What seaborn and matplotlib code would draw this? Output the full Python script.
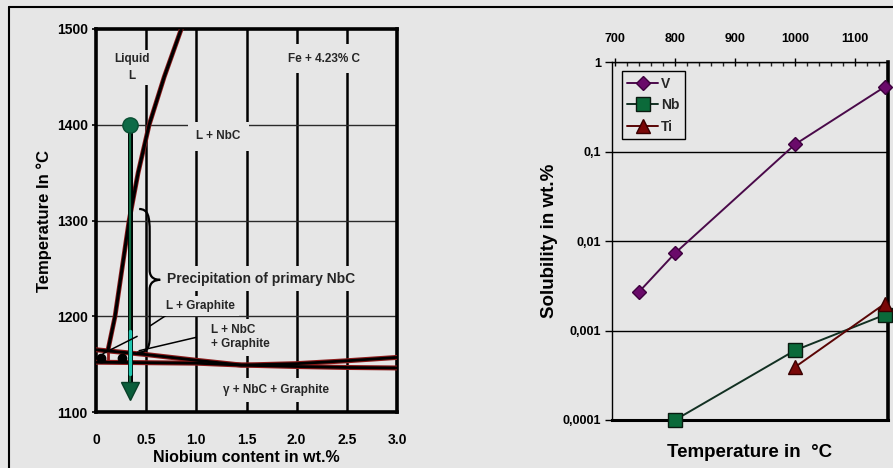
import numpy as np
import pandas as pd
import matplotlib
matplotlib.use("Agg")
import matplotlib.pyplot as plt
import seaborn as sns
from matplotlib.path import Path
from matplotlib.patches import PathPatch
from matplotlib.lines import Line2D
from matplotlib.ticker import FixedLocator, FixedFormatter, MultipleLocator, NullLocator

# ---------------- data: left panel (Fe + 4.23% C with Nb) ----------------
nb_ticks = [0, 0.5, 1.0, 1.5, 2.0, 2.5, 3.0]
nb_tick_labels = ["0", "0.5", "1.0", "1.5", "2.0", "2.5", "3.0"]
temp_ticks = [1100, 1200, 1300, 1400, 1500]
temp_tick_labels = ["1100", "1200", "1300", "1400", "1500"]

liquidus_nb = [0.12, 0.19, 0.26, 0.33, 0.42, 0.53, 0.68, 0.85]
liquidus_T = [1165, 1200, 1250, 1300, 1350, 1400, 1450, 1500]

eut_upper_nb = [0.0, 0.5, 1.0, 1.45, 2.0, 2.5, 3.0]
eut_upper_T = [1165, 1160, 1154, 1149, 1147.5, 1146.5, 1146]
eut_lower_nb = [0.0, 0.5, 1.0, 1.45, 2.0, 2.5, 3.0]
eut_lower_T = [1152, 1151.5, 1151, 1149, 1150.5, 1153.5, 1157]

alloy_nb = [0.34, 0.34]
alloy_T = [1400, 1122]

dots_nb = [0.05, 0.26]
dots_T = [1156, 1156]

# ---------------- data: right panel (solubility) ----------------
temp_top_ticks = [700, 800, 900, 1000, 1100]
sol_ticks = [0.0001, 0.001, 0.01, 0.1, 1]
sol_tick_labels = ["0,0001", "0,001", "0,01", "0,1", "1"]

v_temp = [740, 800, 1000, 1150]
v_sol = [0.0027, 0.0073, 0.12, 0.53]
nb_temp = [800, 1000, 1150]
nb_sol = [0.0001, 0.0006, 0.0015]
ti_temp = [1000, 1150]
ti_sol = [0.00039, 0.0020]

sol_df = pd.DataFrame({
    "element": ["V"] * len(v_temp) + ["Nb"] * len(nb_temp) + ["Ti"] * len(ti_temp),
    "temp": v_temp + nb_temp + ti_temp,
    "sol": v_sol + nb_sol + ti_sol,
})

# ---------------- style ----------------
BG = "#e6e6e6"
sns.set_theme(style="white")
plt.rcParams["font.family"] = ["Liberation Sans", "DejaVu Sans"]
plt.rcParams["font.weight"] = "bold"
plt.rcParams["axes.labelweight"] = "bold"

fig = plt.figure(figsize=(8.93, 4.68), dpi=100, facecolor=BG)
W, H = 893, 468

def axrect(l, t, r, b):
    return [l / W, 1 - b / H, (r - l) / W, (b - t) / H]

# ================= LEFT PANEL =================
ax = fig.add_axes(axrect(96, 29, 397, 412))
ax.set_facecolor(BG)
ax.set_xlim(0, 3.0)
ax.set_ylim(1100, 1500)

# grid lines
for x in nb_ticks[1:-1]:
    ax.axvline(x, color="black", lw=1.8, zorder=1)
for y in temp_ticks[1:-1]:
    ax.axhline(y, color="#2a2a2a", lw=1.0, zorder=1)

# liquidus
sns.lineplot(x=liquidus_nb, y=liquidus_T, sort=False, estimator=None, ax=ax,
             color="#8b1a1a", lw=3.4, zorder=3)
sns.lineplot(x=liquidus_nb, y=liquidus_T, sort=False, estimator=None, ax=ax,
             color="black", lw=2.2, zorder=4)
# eutectic lines
for xs, ys in [(eut_upper_nb, eut_upper_T), (eut_lower_nb, eut_lower_T)]:
    sns.lineplot(x=xs, y=ys, sort=False, estimator=None, ax=ax,
                 color="#8b1a1a", lw=3.6, zorder=3)
    sns.lineplot(x=xs, y=ys, sort=False, estimator=None, ax=ax,
                 color="black", lw=2.0, zorder=4)
ax.plot([0.12, 0.12], [1152, 1165], color="#8b1a1a", lw=2, zorder=3)

# alloy cooling path (arrow)
sns.lineplot(x=alloy_nb, y=alloy_T, sort=False, estimator=None, ax=ax,
             color="black", lw=3.6, zorder=5)
ax.plot([alloy_nb[0], alloy_nb[0]], [1395, 1130], color="#0d6a40", lw=1.6, zorder=6)
ax.plot([alloy_nb[0], alloy_nb[0]], [1185, 1140], color="#1fc7b0", lw=2.4, zorder=6)
ax.plot([alloy_nb[1]], [alloy_T[1]], marker="v", ms=13, color="#0b5e3b",
        mec="#083f28", zorder=7, clip_on=False)
ax.plot([alloy_nb[0]], [alloy_T[0]], marker="o", ms=11, color="#0e6b47",
        mec="#0a4f33", zorder=7)
# points on eutectic
ax.plot(dots_nb, dots_T, "o", color="black", ms=6, zorder=8)

# brace
bx, btop, bbot, btip, btipT = 0.535, 1310, 1162, 0.64, 1238
verts = [(0.43, btop + 2), (0.52, btop + 2), (bx, btop - 6), (bx, btop - 22),
         (bx, btipT + 10),
         (bx, btipT + 2), (btip - 0.05, btipT), (btip, btipT),
         (btip - 0.05, btipT), (bx, btipT - 2), (bx, btipT - 10),
         (bx, bbot + 16),
         (bx, bbot + 4), (0.50, bbot), (0.41, bbot)]
codes = [Path.MOVETO, Path.CURVE4, Path.CURVE4, Path.CURVE4,
         Path.LINETO,
         Path.CURVE4, Path.CURVE4, Path.CURVE4,
         Path.CURVE4, Path.CURVE4, Path.CURVE4,
         Path.LINETO,
         Path.CURVE4, Path.CURVE4, Path.CURVE4]
ax.add_patch(PathPatch(Path(verts, codes), fill=False, lw=1.6, color="black", zorder=6))

# leader lines
ax.plot([0.07, 0.41], [1161, 1179], color="black", lw=1.1, zorder=6)
ax.plot([0.54, 0.70], [1190, 1201], color="black", lw=1.1, zorder=6)
ax.plot([0.43, 1.00], [1164, 1178], color="black", lw=1.1, zorder=6)

box = dict(facecolor=BG, edgecolor="none", pad=2.5)
ax.text(0.36, 1460, "Liquid\nL", ha="center", va="center", fontsize=8.5,
        linespacing=1.5, bbox=box, zorder=9)
ax.text(2.27, 1469, "Fe + 4.23% C", ha="center", va="center", fontsize=8.5,
        bbox=dict(facecolor=BG, edgecolor="none", pad=6), zorder=9)
ax.text(1.22, 1388, "L + NbC", ha="center", va="center", fontsize=8.5,
        bbox=dict(facecolor=BG, edgecolor="none", pad=6), zorder=9)
ax.text(0.71, 1239, "Precipitation of primary NbC", ha="left", va="center",
        fontsize=10, bbox=dict(facecolor=BG, edgecolor="none", pad=4), zorder=9)
ax.text(0.70, 1211, "L + Graphite", ha="left", va="center", fontsize=8.5,
        bbox=dict(facecolor=BG, edgecolor="none", pad=3), zorder=9)
ax.text(1.15, 1178, "L + NbC\n+ Graphite", ha="left", va="center", fontsize=8.5,
        linespacing=1.2, bbox=dict(facecolor=BG, edgecolor="none", pad=4), zorder=9)
ax.text(1.79, 1123, "\u03b3 + NbC + Graphite", ha="center", va="center", fontsize=8.5,
        bbox=dict(facecolor=BG, edgecolor="none", pad=4), zorder=9)

ax.xaxis.set_major_locator(FixedLocator(nb_ticks))
ax.xaxis.set_major_formatter(FixedFormatter(nb_tick_labels))
ax.yaxis.set_major_locator(FixedLocator(temp_ticks))
ax.yaxis.set_major_formatter(FixedFormatter(temp_tick_labels))
ax.tick_params(axis="x", length=0, pad=15, labelsize=10, colors="black")
ax.tick_params(axis="y", left=True, length=3, width=1.2, pad=3, labelsize=10, colors="black")
for lab in ax.get_xticklabels() + ax.get_yticklabels():
    lab.set_fontweight("bold")
for s in ax.spines.values():
    s.set_color("black")
    s.set_linewidth(2.6)
ax.set_xlabel("Niobium content in wt.%", fontsize=11.5, labelpad=2, color="black")
ax.set_ylabel("Temperature In \u00b0C", fontsize=12, labelpad=3, color="black")

# ================= RIGHT PANEL =================
ax2 = fig.add_axes(axrect(612, 62, 888, 420))
ax2.set_facecolor(BG)
ax2.set_yscale("log")
ax2.set_xlim(695, 1155)
ax2.set_ylim(1e-4, 1)

styles = {
    "V": dict(marker="D", ms=7, mfc="#6a0a6a", mec="#3e003e", color="#4a0a4a"),
    "Nb": dict(marker="s", ms=10, mfc="#0b6a3a", mec="#0a1a10", color="#123022"),
    "Ti": dict(marker="^", ms=10, mfc="#7a0808", mec="#3a0000", color="#5a0505"),
}
for el in ["V", "Nb", "Ti"]:
    sub = sol_df[sol_df["element"] == el]
    st = styles[el]
    sns.lineplot(data=sub, x="temp", y="sol", ax=ax2, estimator=None, sort=False,
                 color=st["color"], lw=1.4, marker=st["marker"], markersize=st["ms"],
                 markerfacecolor=st["mfc"], markeredgecolor=st["mec"],
                 markeredgewidth=1.0, label=el, clip_on=False, zorder=5)

ax2.yaxis.grid(True, which="major", color="black", lw=1.0)
ax2.xaxis.grid(False)
ax2.yaxis.set_major_locator(FixedLocator(sol_ticks))
ax2.yaxis.set_major_formatter(FixedFormatter(sol_tick_labels))
ax2.yaxis.set_minor_locator(NullLocator())
ax2.xaxis.tick_top()
ax2.xaxis.set_major_locator(FixedLocator(temp_top_ticks))
ax2.xaxis.set_minor_locator(MultipleLocator(20))
ax2.tick_params(axis="x", which="major", top=True, bottom=False, direction="inout",
                length=6, width=1.0, pad=9, labelsize=9, colors="black")
ax2.tick_params(axis="x", which="minor", top=True, bottom=False, direction="in",
                length=3, width=1.0)
ax2.tick_params(axis="y", which="major", left=True, direction="out", length=5,
                width=1.0, pad=3, labelsize=9, colors="black")
for lab in ax2.get_xticklabels() + ax2.get_yticklabels():
    lab.set_fontweight("bold")
ax2.spines["top"].set_linewidth(1.0)
ax2.spines["left"].set_linewidth(1.0)
ax2.spines["right"].set_linewidth(2.6)
ax2.spines["bottom"].set_linewidth(2.2)
for s in ax2.spines.values():
    s.set_color("black")
ax2.set_xlabel("Temperature in  \u00b0C", fontsize=13.5, labelpad=17, color="black")
ax2.xaxis.set_label_position("bottom")
ax2.set_ylabel("Solubility in wt.%", fontsize=13.5, labelpad=3, color="black")

leg = ax2.legend(loc="upper left", bbox_to_anchor=(0.036, 0.975), frameon=True,
                 fancybox=False, edgecolor="black", facecolor=BG, framealpha=1,
                 fontsize=10, handlelength=2.2, handletextpad=0.2, borderpad=0.4,
                 labelspacing=0.55, borderaxespad=0)
leg.get_frame().set_linewidth(1.0)
for t in leg.get_texts():
    t.set_fontweight("bold")

# outer frame
fig.add_artist(Line2D([9 / W, 9 / W], [0, 1 - 7 / H], color="black", lw=1.5))
fig.add_artist(Line2D([9 / W, 1], [1 - 7 / H, 1 - 7 / H], color="black", lw=1.5))

fig.savefig("out.png", dpi=100, facecolor=BG)
